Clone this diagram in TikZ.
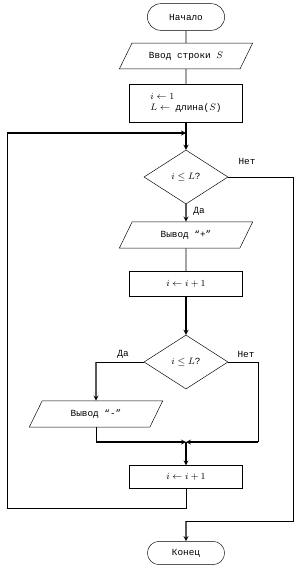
\documentclass[tikz,border=0pt]{standalone}
\usepackage{fontspec}
\newfontfamily\flowfont{Liberation Mono}
\usetikzlibrary{shapes.geometric,shapes.misc,arrows}

\begin{document}
\begin{tikzpicture}[
    x=0.03cm, y=-0.03cm,
    every node/.style={font=\flowfont\fontsize{8}{10}\selectfont},
    >=stealth,
    term/.style={draw, rounded rectangle, minimum width=2.55cm, minimum height=0.8cm},
    io/.style={draw, trapezium, trapezium left angle=64, trapezium right angle=116,
        trapezium stretches body, minimum width=4.0cm, inner xsep=2pt, inner ysep=7.5pt},
    proc/.style={draw, rectangle, minimum width=3.4cm},
    cond/.style={draw, diamond, minimum width=2.52cm, minimum height=1.62cm, inner sep=0pt},
    flow/.style={->, line width=0.9pt},
    link/.style={line width=0.45pt}
]

% Canvas (pixel units)
\useasboundingbox (0,0) rectangle (300,569);

% Main axis
\def\axisX{186}

% === Blocks ===
\node[term] (start) at (\axisX,17) {Начало};
\node[io] (inp) at (\axisX,56) {Ввод строки $S$};
\node[proc, minimum height=1.14cm, align=left] (init) at (\axisX,103)
    {$i \leftarrow 1$\\$L \leftarrow$ длина($S$)};
\node[cond] (cond1) at (\axisX,177) {$i \leq L$?};
\node[io] (outp) at (\axisX,235) {Вывод “+”};
\node[proc, minimum height=0.75cm] (inc1) at (\axisX,284) {$i \leftarrow i + 1$};
\node[cond] (cond2) at (\axisX,362) {$i \leq L$?};
\node[io] (outm) at (96,414) {Вывод “-”};
\node[proc, minimum height=0.68cm] (inc2) at (\axisX,477) {$i \leftarrow i + 1$};
\node[term, minimum height=0.7cm] (fin) at (\axisX,553) {Конец};

% === Branch labels ===
\node (no1) at (247,161) {Нет};
\node (yes1) at (199,211) {Да};
\node (yes2) at (123,354) {Да};
\node (no2) at (246,354) {Нет};

% === Helper points ===
\coordinate (merge) at (\axisX,133);
\coordinate (join) at (\axisX,442);
\coordinate (loopL) at (7,508);
\coordinate (exitR) at (293,521);
\coordinate (noR) at (258,362);

% === Straight flow ===
\draw[link] (start) -- (inp);
\draw[link] (inp) -- (init);
\draw[flow] (init) -- (cond1);
\draw[flow] (cond1) -- (outp);
\draw[link] (outp) -- (inc1);
\draw[flow] (inc1) -- (cond2);

% Inner branch: yes to the left
\draw[link] (cond2.west) -- (cond2.west -| outm.north);
\draw[flow] (cond2.west -| outm.north) -- (outm);
\draw[link] (outm.south) -- (outm.south |- join);
\draw[flow] (outm.south |- join) -- (join);

% Inner branch: no to the right
\draw[link] (cond2.east) -- (noR) -- (noR |- join);
\draw[flow] (noR |- join) -- (join);
\draw[flow] (join) -- (inc2);

% Loop back
\draw[link] (inc2.south) |- (loopL) -- (loopL |- merge);
\draw[flow] (loopL |- merge) -- (merge);

% Exit of the loop
\draw[link] (cond1.east) -| (exitR) -- (exitR -| fin.north);
\draw[flow] (exitR -| fin.north) -- (fin);

\end{tikzpicture}
\end{document}
